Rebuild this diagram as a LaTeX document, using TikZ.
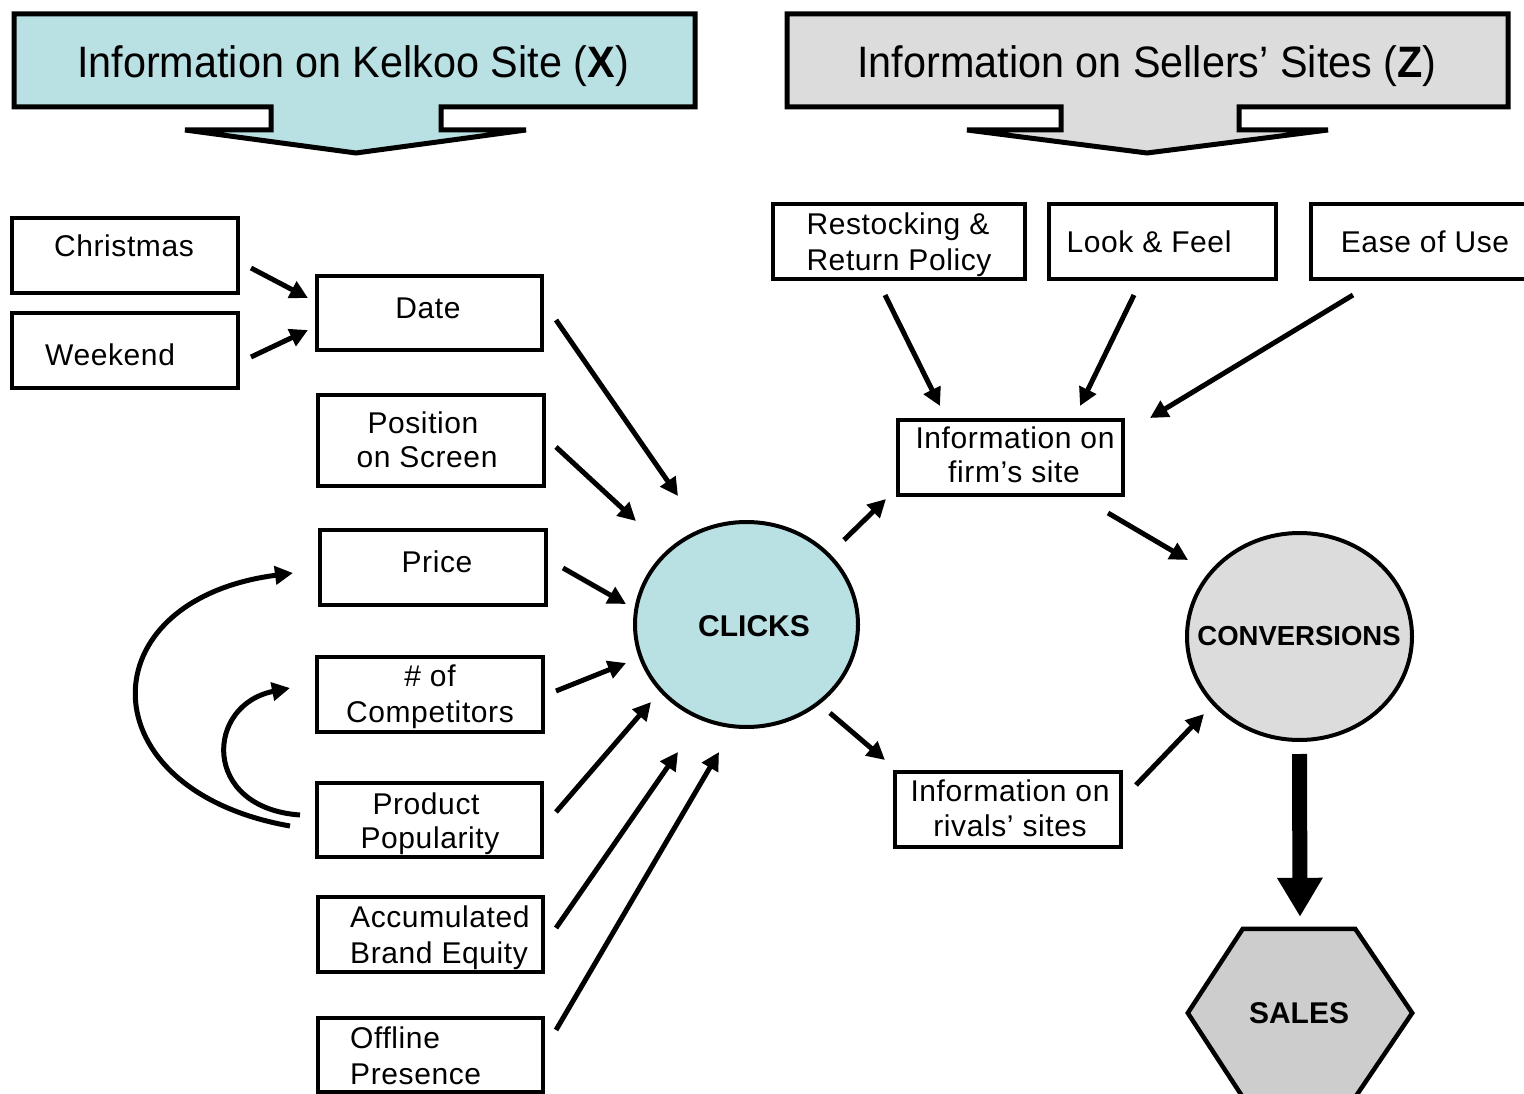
\documentclass[tikz,border=0pt]{standalone}
\usepackage{fontspec}
\setmainfont{Liberation Sans}
\newfontfamily\titlefont[FakeStretch=0.94]{Liberation Sans}
\newfontfamily\boxfont[LetterSpace=2]{Liberation Sans}
\usetikzlibrary{arrows.meta,calc,shapes.geometric}
\definecolor{kblue}{HTML}{B9E0E3}
\definecolor{sgray}{HTML}{DCDCDC}
\definecolor{hgray}{HTML}{CDCDCD}
\begin{document}
\begin{tikzpicture}[x=1pt,y=-1pt,
  bx/.style={draw, line width=4pt, rectangle, inner sep=0pt, minimum width=#1},
  bx/.default=226pt,
  txt/.style={anchor=base, inner sep=0pt, font=\boxfont\fontsize{30}{36}\selectfont},
  txtl/.style={txt, anchor=base west},
  ovt/.style={anchor=base, inner sep=0pt, font=\bfseries\fontsize{30}{36}\selectfont},
  arr/.style={line width=5pt, -{Triangle[length=18pt,width=18pt]}},
  oval/.style={draw, line width=4pt, ellipse, inner sep=0pt}
]
\useasboundingbox (0,0) rectangle (1524,1094);

% title arrows
\draw[line width=5pt, fill=kblue, line join=miter]
  (14,14) -- (695,14) -- (695,107) -- (441,107) -- (441,130) -- (526,130) -- (356,153)
  -- (185,130) -- (271,130) -- (271,107) -- (14,107) -- cycle;
\node[anchor=base, inner sep=0pt, font=\titlefont\fontsize{44}{50}\selectfont] (titleX) at (353,78)
  {Information on Kelkoo Site (\textbf{X})};
\draw[line width=5pt, fill=sgray, line join=miter]
  (787,14) -- (1508,14) -- (1508,107) -- (1239,107) -- (1239,130) -- (1328,130) -- (1147,153)
  -- (967,130) -- (1061,130) -- (1061,107) -- (787,107) -- cycle;
\node[anchor=base, inner sep=0pt, font=\titlefont\fontsize{44}{50}\selectfont] (titleZ) at (1147,78)
  {Information on Sellers’ Sites (\textbf{Z})};

% left boxes
\node[bx, minimum height=75pt] (chr) at (125,255.5) {};
\node[txt] (chrT) at (124,257) {Christmas};
\node[bx, minimum height=75pt] (wk) at (125,350.5) {};
\node[txtl] (wkT) at (45,365) {Weekend};
\node[bx=225pt, minimum height=74pt] (date) at (429.5,313) {};
\node[txt] (dateT) at (428,318) {Date};
\node[bx, minimum height=91pt] (pos) at (431,440.5) {};
\node[txt] (posT1) at (423,433) {Position};
\node[txt] (posT2) at (427,467) {on Screen};
\node[bx, minimum height=75pt] (price) at (433,567.5) {};
\node[txt] (priceT) at (437,572) {Price};
\node[bx, minimum height=75pt] (comp) at (430,694.5) {};
\node[txt] (compT1) at (430,686) {\# of};
\node[txt] (compT2) at (430,722) {Competitors};
\node[bx=225pt, minimum height=74pt] (prod) at (429.5,820) {};
\node[txt] (prodT1) at (426,814) {Product};
\node[txt] (prodT2) at (430,848) {Popularity};
\node[bx=225pt, minimum height=75pt] (acc) at (430.5,934.5) {};
\node[txtl] (accT1) at (350,927) {Accumulated};
\node[txtl] (accT2) at (350,963) {Brand Equity};
\node[bx=225pt, minimum height=74pt] (off) at (430.5,1055) {};
\node[txtl] (offT1) at (350,1048) {Offline};
\node[txtl] (offT2) at (350,1084) {Presence};

% right boxes
\node[bx=252pt, minimum height=75pt] (res) at (899,241.5) {};
\node[txt] (resT1) at (898,235) {Restocking \&};
\node[txt] (resT2) at (899,270) {Return Policy};
\node[bx=227pt, minimum height=75pt] (look) at (1162.5,241.5) {};
\node[txt] (lookT) at (1149,253) {Look \& Feel};
\node[bx=234pt, minimum height=75pt] (ease) at (1428,241.5) {};
\node[txt] (easeT) at (1425,253) {Ease of Use};
\node[bx=225pt, minimum height=75pt] (firm) at (1010.5,457.5) {};
\node[txt] (firmT1) at (1015,448) {Information on};
\node[txt] (firmT2) at (1014,482) {firm’s site};
\node[bx, minimum height=75pt] (riv) at (1008,809.5) {};
\node[txt] (rivT1) at (1010,801) {Information on};
\node[txt] (rivT2) at (1010,836) {rivals’ sites};

% ovals
\node[oval, fill=kblue, minimum width=223pt, minimum height=205pt] (clicks) at (746.5,624.5) {};
\node[ovt] (clicksT) at (754,636) {CLICKS};
\node[oval, fill=sgray, minimum width=225pt, minimum height=207pt] (conv) at (1299.5,636.5) {};
\node[anchor=base, inner sep=0pt, font=\bfseries\fontsize{27.5}{33}\selectfont] (convT) at (1299,645) {CONVERSIONS};

% sales hexagon
\node[inner sep=0pt, minimum width=224pt, minimum height=168pt] (sales) at (1300,1013) {};
\draw[line width=4.5pt, fill=hgray, line join=miter]
  ($(sales.north west)+(55,0)$) -- ($(sales.north east)+(-57,0)$) -- (sales.east)
  -- ($(sales.south east)+(-57,0)$) -- ($(sales.south west)+(55,0)$) -- (sales.west) -- cycle;
\node[ovt] (salesT) at (1299,1023) {SALES};

% connectors left
\draw[arr] ($(chr.east)+(11,12.5)$) -- ($(date.west)+(-7,-15)$);
\draw[arr] ($(wk.east)+(11,6.5)$) -- ($(date.west)+(-7,17)$);
\draw[arr] ($(date.east)+(12,7)$) -- ($(clicks.center)+(-68.5,-128.5)$);
\draw[arr] ($(pos.east)+(10,6.5)$) -- ($(clicks.center)+(-110.5,-103.5)$);
\draw[arr] ($(price.east)+(15,0.5)$) -- ($(clicks.center)+(-120.5,-20.5)$);
\draw[arr] ($(comp.east)+(11,-3.5)$) -- ($(clicks.center)+(-120.5,38.5)$);
\draw[arr] ($(prod.east)+(12,-8)$) -- ($(clicks.center)+(-95.5,77.5)$);
\draw[arr] ($(acc.east)+(11,-6.5)$) -- ($(clicks.center)+(-68.5,127.5)$);
\draw[arr] ($(off.east)+(11,-25)$) -- ($(clicks.center)+(-27.5,127.5)$);

% feedback curves
\draw[arr] ($(prod.west)+(-25,6)$) .. controls (86,790) and (86,600) .. ($(price.west)+(-25,5.5)$);
\draw[arr] ($(prod.west)+(-15,-5)$) .. controls (201,808) and (205,705) .. ($(comp.west)+(-25,-6.5)$);

% connectors right
\draw[arr] ($(clicks.center)+(97.5,-84.5)$) -- ($(firm.south west)+(-10,2)$);
\draw[arr] ($(clicks.center)+(83.5,88.5)$) -- ($(riv.north west)+(-8,-10)$);
\draw[arr] ($(firm.south east)+(-17,16)$) -- ($(conv.center)+(-111.5,-76.5)$);
\draw[arr] ($(riv.north east)+(13,15)$) -- ($(conv.center)+(-95.5,77.5)$);
\draw[arr] ($(res.south)+(-14,14)$) -- ($(firm.north)+(-70.5,-12)$);
\draw[arr] ($(look.south)+(-28.5,14)$) -- ($(firm.north)+(69.5,-12)$);
\draw[arr] ($(ease.south west)+(44,14)$) -- ($(firm.north east)+(25,0)$);

% fat arrow to sales
\draw[line width=15pt, -{Triangle[length=39pt,width=43pt]}] ($(conv.south)+(0,12)$) -- ($(sales.north)+(0,-12)$);
\end{tikzpicture}
\end{document}
